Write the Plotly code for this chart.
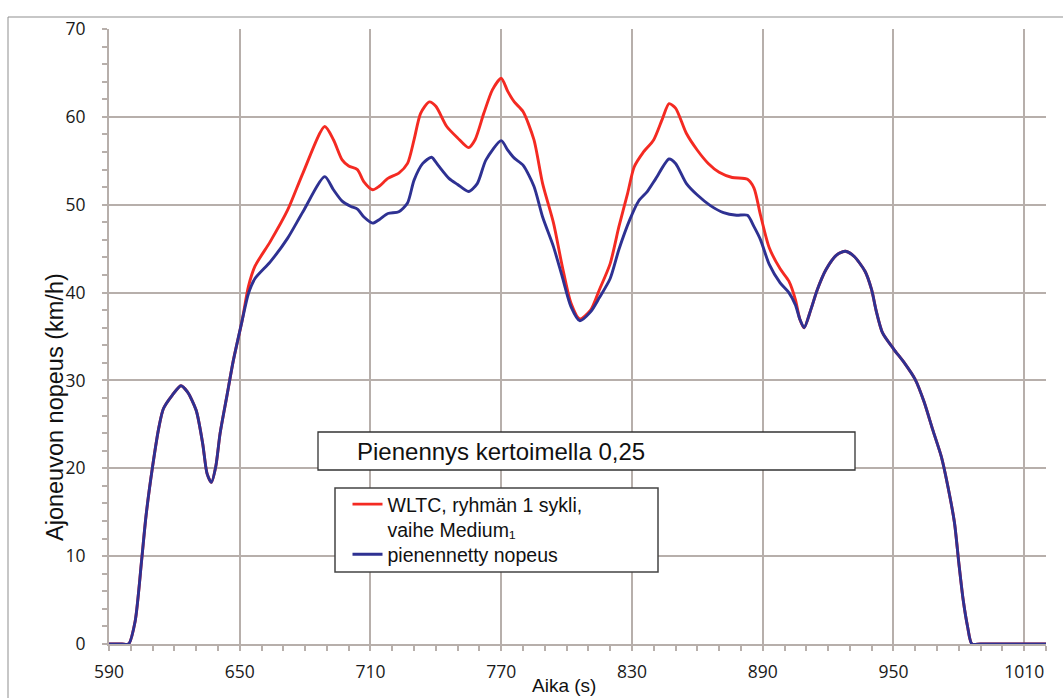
import plotly.graph_objects as go

# ---- data ----
t_start = [590, 596, 599, 602, 605, 607, 610, 613, 615, 619, 623, 626, 630, 633, 635, 637, 639, 641, 644, 647, 651]
v_start = [0, 0, 0, 2.6, 9.6, 14.6, 20.2, 24.8, 26.8, 28.3, 29.4, 28.7, 26.6, 22.8, 19.4, 18.4, 20.2, 24.0, 28.1, 32.2, 36.7]

t_red_mid = [654, 657, 664, 672, 679, 689, 693, 697, 700, 704, 707, 711, 714, 718, 723, 727, 730, 733, 737, 740,
             745, 750, 755, 758, 762, 766, 770, 773, 776, 780, 785, 789, 794, 798, 802, 806, 811, 815, 820, 824,
             828, 831, 835, 840, 844, 847, 850, 855, 860, 865, 870, 876, 883, 886, 889, 893, 898, 902, 905]
v_red_mid = [40.7, 43.0, 45.8, 49.4, 53.6, 58.9, 57.4, 55.1, 54.4, 54.0, 52.6, 51.7, 52.1, 53.0, 53.6, 54.7, 57.4, 60.4, 61.7, 61.2,
             58.9, 57.6, 56.5, 57.4, 60.4, 63.1, 64.4, 62.9, 61.7, 60.6, 57.4, 52.4, 47.9, 43.0, 38.8, 37.0, 38.0, 40.3, 43.3, 47.5,
             51.3, 54.3, 55.9, 57.4, 59.8, 61.5, 61.0, 58.1, 56.2, 54.7, 53.7, 53.1, 52.9, 51.9, 48.8, 45.1, 42.7, 41.3, 39.2]

t_blue_mid = [654, 657, 664, 672, 679, 689, 693, 697, 701, 704, 707, 711, 714, 718, 723, 727, 730, 734, 738, 741,
              746, 750, 755, 759, 763, 770, 773, 776, 780, 785, 789, 794, 798, 802, 806, 811, 815, 820, 824, 829,
              833, 837, 841, 847, 850, 855, 860, 866, 872, 878, 883, 886, 889, 893, 898, 902, 905]
v_blue_mid = [39.9, 41.6, 43.5, 46.2, 49.2, 53.2, 51.7, 50.4, 49.8, 49.5, 48.6, 47.9, 48.3, 49.0, 49.2, 50.2, 52.8, 54.7, 55.4, 54.5,
              53.0, 52.3, 51.5, 52.4, 55.1, 57.3, 56.2, 55.3, 54.5, 52.1, 48.6, 45.2, 41.8, 38.4, 36.8, 37.8, 39.4, 41.6, 44.9, 48.3,
              50.4, 51.5, 53.0, 55.2, 54.7, 52.4, 51.1, 49.9, 49.1, 48.8, 48.8, 47.5, 46.0, 43.2, 41.1, 40.0, 38.6]

t_end = [907, 909, 912, 915, 919, 924, 928, 932, 937, 940, 942, 945, 950, 955, 960, 964, 968, 972, 975, 978,
         980, 982, 984, 986, 990, 1020]
v_end = [37.0, 36.0, 38.0, 40.3, 42.6, 44.3, 44.7, 44.1, 42.4, 40.3, 38.0, 35.4, 33.6, 32.0, 30.1, 27.6, 24.4, 21.3, 17.9, 13.8,
         9.2, 5.0, 2.0, 0, 0, 0]

x_ticks = [590, 650, 710, 770, 830, 890, 950, 1010]
y_ticks = [0, 10, 20, 30, 40, 50, 60, 70]

series_names = ["WLTC, ryhmän 1 sykli,<br>vaihe Medium\u2081", "pienennetty nopeus"]
series_colors = ["#f42a22", "#2e3192"]
note_text = "Pienennys kertoimella 0,25"
x_title = "Aika (s)"
y_title = "Ajoneuvon nopeus (km/h)"

t_red = t_start + t_red_mid + t_end
v_red = v_start + v_red_mid + v_end
t_blue = t_start + t_blue_mid + t_end
v_blue = v_start + v_blue_mid + v_end

# ---- layout geometry (pixels) ----
W, H = 1063, 698
ML, MR, MT, MB = 109, 17, 29, 54
PW, PH = W - ML - MR, H - MT - MB


def px(x):
    return (x - ML) / PW


def py(y):
    return (H - MB - y) / PH


grid = "#b7afab"
txt = "#1a1a1a"
label_font = "Liberation Sans, Arial"

fig = go.Figure()
fig.add_trace(go.Scatter(x=t_red, y=v_red, mode="lines", name=series_names[0], legend="legend",
                         line=dict(color=series_colors[0], width=2.9, shape="spline", smoothing=0.7)))
fig.add_trace(go.Scatter(x=t_blue, y=v_blue, mode="lines", name=series_names[1], legend="legend2",
                         line=dict(color=series_colors[1], width=2.9, shape="spline", smoothing=0.7)))

axis_common = dict(showgrid=True, gridcolor=grid, gridwidth=2, showline=True, linecolor=grid, linewidth=2,
                   zeroline=False, ticks="outside", ticklen=5, tickwidth=1.5, tickcolor=grid,
                   tickfont=dict(family="Open Sans", size=17.5, color=txt))

legend_common = dict(xanchor="left", yanchor="top", bgcolor="rgba(0,0,0,0)", borderwidth=0, valign="top",
                     itemwidth=30, font=dict(family=label_font, size=19.5, color="#111111"))

fig.update_layout(
    width=W, height=H,
    margin=dict(l=ML, r=MR, t=MT, b=MB, autoexpand=False),
    paper_bgcolor="white", plot_bgcolor="white",
    showlegend=True,
    xaxis=dict(range=[590, 1020], tickmode="array", tickvals=x_ticks, ticklabelstandoff=6,
               minor=dict(dtick=10, tick0=590, ticks="outside", ticklen=5, tickcolor=grid, tickwidth=1.5, showgrid=False),
               **axis_common),
    yaxis=dict(range=[0, 70], tickmode="array", tickvals=y_ticks, ticklabelstandoff=13,
               minor=dict(dtick=2, tick0=0, ticks="outside", ticklen=5, tickcolor=grid, tickwidth=1.5, showgrid=False),
               **axis_common),
    xaxis2=dict(overlaying="x", matches="x", anchor="y", side="bottom", range=[590, 1020],
                showgrid=False, showline=False, zeroline=False, showticklabels=False,
                ticks="inside", ticklen=5, tickwidth=1.5, tickcolor=grid, tickmode="array", tickvals=x_ticks,
                minor=dict(dtick=10, tick0=590, ticks="inside", ticklen=5, tickcolor=grid, tickwidth=1.5)),
    yaxis2=dict(overlaying="y", matches="y", anchor="x", side="left", range=[0, 70],
                showgrid=False, showline=False, zeroline=False, showticklabels=False,
                ticks="inside", ticklen=5, tickwidth=1.5, tickcolor=grid, tickmode="array", tickvals=y_ticks,
                minor=dict(dtick=2, tick0=0, ticks="inside", ticklen=5, tickcolor=grid, tickwidth=1.5)),
    legend=dict(x=px(347.5), y=py(485), **legend_common),
    legend2=dict(x=px(347.5), y=py(535), **legend_common),
    shapes=[
        # outer chart-area frame
        dict(type="rect", xref="paper", yref="paper", x0=px(8), x1=px(1075), y0=py(710), y1=py(17),
             line=dict(color="#8f8f8f", width=1), fillcolor="rgba(0,0,0,0)", layer="below"),
        # text box
        dict(type="rect", xref="paper", yref="paper", x0=px(318), x1=px(855), y0=py(470), y1=py(432),
             line=dict(color="#333333", width=1.3), fillcolor="white", layer="above"),
        # legend box
        dict(type="rect", xref="paper", yref="paper", x0=px(335), x1=px(658), y0=py(572), y1=py(488),
             line=dict(color="#444444", width=1.5), fillcolor="white", layer="above"),
    ],
    annotations=[
        dict(text=note_text, xref="paper", yref="paper", x=px(355), y=py(451), xanchor="left", yanchor="middle",
             showarrow=False, font=dict(family=label_font, size=24, color="#111111")),
        dict(text=y_title, xref="paper", yref="paper", x=px(55), y=py(407), xanchor="center", yanchor="middle",
             textangle=-90, showarrow=False, font=dict(family=label_font, size=23.5, color="#111111")),
        dict(text=x_title, xref="paper", yref="paper", x=px(564), y=py(685), xanchor="center", yanchor="middle",
             showarrow=False, font=dict(family=label_font, size=19, color="#111111")),
    ],
)

fig.write_html("out.html", config={"displayModeBar": False},
               post_script="document.body.style.margin='0px';")
